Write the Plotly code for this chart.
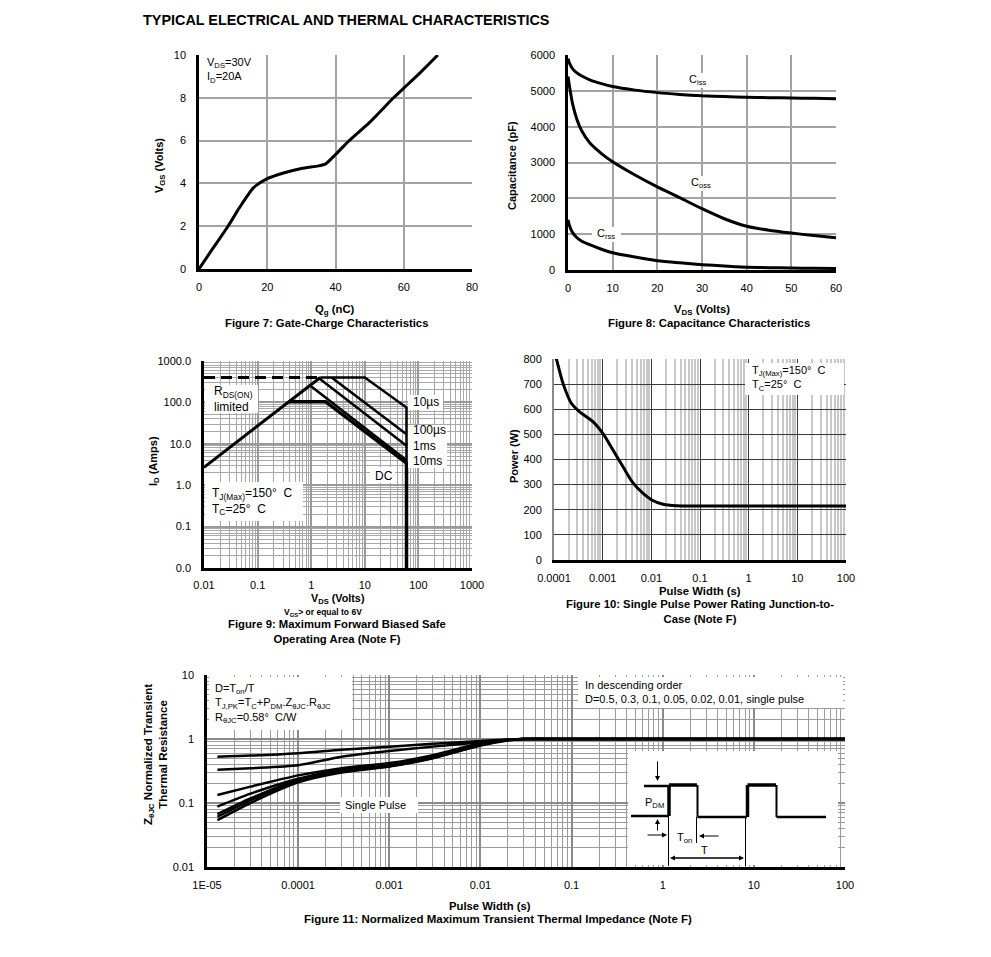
import plotly.graph_objects as go

W, H = 991, 957
OX, OY = 8, 8  # page body margin compensation
FONT = "Liberation Sans, Arial, sans-serif"

# ---------------- data ----------------
# Figure 7: gate charge
qg_nc = [0, 4, 8.5, 12, 16, 20, 25, 30, 35, 37, 40, 44, 50, 57, 60, 65, 70]
vgs_v = [0, 0.95, 2.0, 2.9, 3.8, 4.22, 4.5, 4.7, 4.82, 4.9, 5.35, 6.0, 6.85, 8.0, 8.45, 9.2, 10.0]

# Figure 8: capacitance
vds_cap = [0, 0.3, 1, 2, 3, 5, 7.5, 10, 15, 20, 25, 30, 35, 40, 45, 50, 55, 60]
ciss_pf = [5900, 5780, 5620, 5500, 5420, 5300, 5200, 5120, 5020, 4950, 4900, 4860, 4840, 4820, 4810, 4800, 4790, 4780]
coss_pf = [5400, 5150, 4650, 4200, 3900, 3530, 3250, 3020, 2650, 2320, 2020, 1710, 1430, 1220, 1110, 1030, 960, 900]
crss_pf = [1400, 1250, 1050, 900, 810, 700, 580, 480, 360, 260, 200, 150, 110, 80, 65, 55, 48, 45]

# Figure 9: safe operating area
rds_v, rds_i = [0.01, 1.48], [2.7, 400]
lim_v, lim_i = [0.01, 1.48], [400, 400]
us10_v, us10_i = [1.48, 10, 60, 60], [400, 400, 75, 0.01]
us100_v, us100_i = [2.4, 60], [400, 17]
ms1_v, ms1_i = [1.4, 60], [385, 9]
ms10_v, ms10_i = [0.95, 60], [255, 4.0]
dc_v, dc_i = [0.385, 1.85, 60, 60], [104, 104, 3.4, 0.01]

# Figure 10: single pulse power
pw_s = [1.0e-4, 1.12e-4, 1.53e-4, 2.27e-4, 3.36e-4, 6.3e-4, 1.0e-3, 1.63e-3, 2.6e-3,
        4.2e-3, 6.7e-3, 1.0e-2, 1.74e-2, 3.27e-2, 0.1, 1, 10, 100]
pw_w = [830, 800, 703, 624, 590, 551, 505, 438, 372, 307, 266, 240, 222, 216, 215, 215, 215, 215]

# Figure 11: transient thermal impedance
zt_s = [1.3e-5, 3e-5, 1e-4, 3e-4, 1e-3, 3e-3, 1e-2, 2e-2, 3e-2, 0.1, 1, 10, 100]
z_d05 = [0.53, 0.55, 0.60, 0.68, 0.76, 0.84, 0.93, 0.98, 1.0, 1.0, 1.0, 1.0, 1.0]
z_d03 = [0.33, 0.35, 0.39, 0.53, 0.65, 0.76, 0.89, 0.97, 1.0, 1.0, 1.0, 1.0, 1.0]
z_d01 = [0.133, 0.18, 0.27, 0.35, 0.42, 0.56, 0.86, 0.97, 1.0, 1.0, 1.0, 1.0, 1.0]
z_d005 = [0.088, 0.14, 0.24, 0.33, 0.39, 0.53, 0.83, 0.96, 1.0, 1.0, 1.0, 1.0, 1.0]
z_d002 = [0.067, 0.118, 0.23, 0.32, 0.38, 0.51, 0.81, 0.96, 1.0, 1.0, 1.0, 1.0, 1.0]
z_d001 = [0.061, 0.11, 0.22, 0.31, 0.375, 0.505, 0.80, 0.96, 1.0, 1.0, 1.0, 1.0, 1.0]
z_single = [0.054, 0.10, 0.21, 0.30, 0.37, 0.50, 0.79, 0.95, 1.0, 1.0, 1.0, 1.0, 1.0]

# tick labels
f9_ticks = [0.01, 0.1, 1, 10, 100, 1000]
f9_xtext = ["0.01", "0.1", "1", "10", "100", "1000"]
f9_ytext = ["0.0", "0.1", "1.0", "10.0", "100.0", "1000.0"]
f10_xticks = [1e-4, 1e-3, 1e-2, 0.1, 1, 10, 100]
f10_xtext = ["0.0001", "0.001", "0.01", "0.1", "1", "10", "100"]
f11_xticks = [1e-5, 1e-4, 1e-3, 1e-2, 0.1, 1, 10, 100]
f11_xtext = ["1E-05", "0.0001", "0.001", "0.01", "0.1", "1", "10", "100"]
f11_yticks = [0.01, 0.1, 1, 10]
f11_ytext = ["0.01", "0.1", "1", "10"]


# ---------------- helpers ----------------
def px(x):
    return (x - OX) / W


def py(y):
    return 1 - (y - OY) / H


def dx(a, b):
    return [px(a), px(b)]


def dy(top, bottom):
    return [py(bottom), py(top)]


def minors(d0, d1):
    return [m * 10.0 ** d for d in range(d0, d1) for m in range(2, 10)]


fig = go.Figure()
BLK = "black"

# Figure 7
fig.add_trace(go.Scatter(x=qg_nc, y=vgs_v, mode="lines", line=dict(color=BLK, width=3, shape="spline", smoothing=0.6),
                         xaxis="x", yaxis="y", showlegend=False))
# Figure 8
for ys in (ciss_pf, coss_pf, crss_pf):
    fig.add_trace(go.Scatter(x=vds_cap, y=ys, mode="lines", line=dict(color=BLK, width=3, shape="spline", smoothing=0.6),
                             xaxis="x2", yaxis="y2", showlegend=False))
# Figure 9
fig.add_trace(go.Scatter(x=lim_v, y=lim_i, mode="lines", line=dict(color=BLK, width=3, dash="11px,6px"),
                         xaxis="x3", yaxis="y3", showlegend=False))
for xs, ys, w in ((rds_v, rds_i, 3), (us10_v, us10_i, 2.5), (us100_v, us100_i, 2.5),
                  (ms1_v, ms1_i, 2.5), (ms10_v, ms10_i, 2.5), (dc_v, dc_i, 3.5)):
    fig.add_trace(go.Scatter(x=xs, y=ys, mode="lines", line=dict(color=BLK, width=w),
                             xaxis="x3", yaxis="y3", showlegend=False))
# Figure 10
fig.add_trace(go.Scatter(x=pw_s, y=pw_w, mode="lines", line=dict(color=BLK, width=3, shape="spline", smoothing=0.8),
                         xaxis="x4", yaxis="y4", showlegend=False))
# Figure 11
for ys in (z_d05, z_d03, z_d01, z_d005, z_d002, z_d001, z_single):
    fig.add_trace(go.Scatter(x=zt_s, y=ys, mode="lines", line=dict(color=BLK, width=2.5, shape="spline", smoothing=0.7),
                             xaxis="x5", yaxis="y5", showlegend=False))

tickfont = dict(family=FONT, size=11, color="black")
common = dict(ticks="", showline=True, linecolor="black", linewidth=2.5, zeroline=False,
              tickfont=tickfont, fixedrange=True, automargin=False)

layout = dict(
    template="none",
    width=W, height=H, margin=dict(l=0, r=0, t=0, b=0, pad=0, autoexpand=False),
    paper_bgcolor="white", plot_bgcolor="white", showlegend=False,
    font=dict(family=FONT, color="black"),
    # Fig 7
    xaxis=dict(domain=dx(199, 472), range=[0, 80], dtick=20, anchor="y", showgrid=True,
               gridcolor="#a3a3a3", gridwidth=1.5, ticklabelstandoff=6, **common),
    yaxis=dict(domain=dy(55, 269), range=[0, 10], dtick=2, anchor="x", showgrid=True,
               gridcolor="#a3a3a3", gridwidth=1.5, ticklabelstandoff=8, **common),
    # Fig 8
    xaxis2=dict(domain=dx(568, 836), range=[0, 60], dtick=10, anchor="y2", showgrid=True,
                gridcolor="#a3a3a3", gridwidth=1.5, ticklabelstandoff=6, **common),
    yaxis2=dict(domain=dy(55, 270), range=[0, 6000], dtick=1000, anchor="x2", showgrid=True,
                gridcolor="#a3a3a3", gridwidth=1.5, ticklabelstandoff=8, **common),
    # Fig 9
    xaxis3=dict(domain=dx(204, 472), type="log", range=[-2, 3], anchor="y3", tickmode="array",
                tickvals=f9_ticks, ticktext=f9_xtext, showgrid=True, gridcolor="#9a9a9a", gridwidth=1.5,
                minor=dict(tickmode="array", tickvals=minors(-2, 3), showgrid=True, gridcolor="#a8a8a8", gridwidth=1),
                ticklabelstandoff=5, **common),
    yaxis3=dict(domain=dy(361, 568), type="log", range=[-2, 3], anchor="x3", tickmode="array",
                tickvals=f9_ticks, ticktext=f9_ytext, showgrid=True, gridcolor="#9a9a9a", gridwidth=1.5,
                minor=dict(tickmode="array", tickvals=minors(-2, 3), showgrid=True, gridcolor="#a8a8a8", gridwidth=1),
                ticklabelstandoff=8, **common),
    # Fig 10
    xaxis4=dict(domain=dx(554, 846), type="log", range=[-4, 2], anchor="y4", tickmode="array",
                tickvals=f10_xticks, ticktext=f10_xtext, showgrid=True, gridcolor="#3a3a3a", gridwidth=1,
                minor=dict(tickmode="array", tickvals=minors(-4, 2), showgrid=True, gridcolor="#c8c8c8", gridwidth=1.5),
                ticklabelstandoff=6, **common),
    yaxis4=dict(domain=dy(359, 560), range=[0, 800], dtick=100, anchor="x4", showgrid=True,
                gridcolor="#3a3a3a", gridwidth=1, ticklabelstandoff=8,
                **{**common, "linecolor": "#8a8a8a", "linewidth": 2}),
    # Fig 11
    xaxis5=dict(domain=dx(207, 845), type="log", range=[-5, 2], anchor="y5", tickmode="array",
                tickvals=f11_xticks, ticktext=f11_xtext, showgrid=True, gridcolor="#8a8a8a", gridwidth=1.5,
                minor=dict(tickmode="array", tickvals=minors(-5, 2), showgrid=True, gridcolor="#9c9c9c", gridwidth=1),
                ticklabelstandoff=6, **common),
    yaxis5=dict(domain=dy(675, 867), type="log", range=[-2, 1], anchor="x5", tickmode="array",
                tickvals=f11_yticks, ticktext=f11_ytext, showgrid=True, gridcolor="#8a8a8a", gridwidth=1.5,
                minor=dict(tickmode="array", tickvals=minors(-2, 1), showgrid=True, gridcolor="#9c9c9c", gridwidth=1),
                ticklabelstandoff=8, **common),
)
fig.update_layout(**layout)

shapes = []


def wrect(x0, y0, x1, y1):
    shapes.append(dict(type="rect", xref="paper", yref="paper", x0=px(x0), x1=px(x1), y0=py(y1), y1=py(y0),
                       fillcolor="white", line=dict(width=0), layer="above"))


def pline(x0, y0, x1, y1, w=1):
    shapes.append(dict(type="line", xref="paper", yref="paper", x0=px(x0), x1=px(x1), y0=py(y0), y1=py(y1),
                       line=dict(color="black", width=w), layer="above"))


# white label boxes
wrect(684, 73, 713, 88)     # Ciss
wrect(687, 176, 715, 191)   # Coss
wrect(592, 227, 621, 242)   # Crss
wrect(205, 385, 258, 413)   # RDS(on)
wrect(408, 395, 443, 410)   # 10us
wrect(408, 425, 447, 468)   # 100us..10ms
wrect(370, 467, 395, 483)   # DC
wrect(205, 482, 303, 521)   # Tj box fig9
wrect(745, 363, 844, 395)   # Tj box fig10
wrect(209, 677, 352, 730)   # fig11 top-left
wrect(340, 797, 418, 813)   # single pulse
wrect(578, 677, 843, 708)   # descending order
wrect(628, 751, 838, 865)   # pulse inset

# pulse diagram
pline(631, 816, 669, 816, 2.5)
pline(644, 786, 669, 786, 2.5)
pline(669, 816, 669, 785, 3.5)
pline(669, 785, 697, 785, 3.5)
pline(697.5, 785, 697.5, 817, 2)
pline(697.5, 817, 747, 817, 2.5)
pline(747.5, 817, 747.5, 785, 3.5)
pline(747.5, 785, 776, 785, 3.5)
pline(776.5, 785, 776.5, 817, 2)
pline(776.5, 817, 826, 817, 2.5)
pline(668.5, 817, 668.5, 866, 1)
pline(696.5, 817, 696.5, 843, 1)
pline(745.5, 817, 745.5, 866, 1)
fig.update_layout(shapes=shapes)

ann = []


def text(x, y, s, size=11, bold=False, xanchor="center", align="center", angle=0, yanchor="middle"):
    if bold:
        s = "<b>" + s + "</b>"
    ann.append(dict(xref="paper", yref="paper", x=px(x), y=py(y), text=s, showarrow=False,
                    xanchor=xanchor, yanchor=yanchor, align=align, textangle=angle,
                    font=dict(family=FONT, size=size, color="black")))


def arrow(x_tip, y_tip, x_tail, y_tail):
    ann.append(dict(xref="paper", yref="paper", axref="pixel", ayref="pixel", x=px(x_tip), y=py(y_tip),
                    ax=x_tail - x_tip, ay=y_tail - y_tip, text="", showarrow=True, arrowhead=2,
                    arrowsize=1, arrowwidth=1, arrowcolor="black"))


CAP = 11.3
text(141, 20, "TYPICAL ELECTRICAL AND THERMAL CHARACTERISTICS", size=14.4, bold=True, xanchor="left")

# Fig 7
text(205, 70, "V<sub>DS</sub>=30V<br>I<sub>D</sub>=20A", size=11, xanchor="left", align="left")
text(160, 166, "V<sub>GS</sub> (Volts)", size=11, bold=True, angle=-90)
text(335, 310, "Q<sub>g</sub> (nC)", size=CAP, bold=True)
text(326, 323, "Figure 7: Gate-Charge Characteristics", size=CAP, bold=True)
# Fig 8
text(698, 80, "C<sub>iss</sub>", size=11)
text(701, 183, "C<sub>oss</sub>", size=11)
text(606, 234, "C<sub>rss</sub>", size=11)
text(512, 166, "Capacitance (pF)", size=11, bold=True, angle=-90)
text(702, 310, "V<sub>DS</sub> (Volts)", size=CAP, bold=True)
text(709, 323, "Figure 8: Capacitance Characteristics", size=CAP, bold=True)
# Fig 9
text(212, 399, "R<sub>DS(ON)</sub><br>limited", size=12, xanchor="left", align="left")
text(411, 402, "10µs", size=12, xanchor="left")
text(411, 446, "100µs<br>1ms<br>10ms", size=12, xanchor="left", align="left")
text(373, 476, "DC", size=12, xanchor="left")
text(210, 501, "T<sub>J(Max)</sub>=150°  C<br>T<sub>C</sub>=25°  C", size=12, xanchor="left", align="left")
text(154, 461, "I<sub>D</sub> (Amps)", size=11, bold=True, angle=-90)
text(338, 598.5, "V<sub>DS</sub> (Volts)", size=10.8, bold=True)
text(323, 612, "V<sub>GS</sub>> or equal to 6V", size=8.5, bold=True)
text(337, 631, "Figure 9: Maximum Forward Biased Safe<br>Operating Area (Note F)", size=CAP, bold=True)
# Fig 10
text(750, 378, "T<sub>J(Max)</sub>=150°  C<br>T<sub>C</sub>=25°  C", size=11, xanchor="left", align="left")
text(514, 456, "Power (W)", size=11, bold=True, angle=-90)
text(700, 591, "Pulse Width (s)", size=CAP, bold=True)
text(700, 611, "Figure 10: Single Pulse Power Rating Junction-to-<br>Case (Note F)", size=CAP, bold=True)
# Fig 11
text(213, 703, "D=T<sub>on</sub>/T<br>T<sub>J,PK</sub>=T<sub>C</sub>+P<sub>DM</sub>.Z<sub>θJC</sub>.R<sub>θJC</sub><br>R<sub>θJC</sub>=0.58°  C/W",
     size=11, xanchor="left", align="left")
text(343, 805, "Single Pulse", size=11, xanchor="left")
text(583, 692, "In descending order<br>D=0.5, 0.3, 0.1, 0.05, 0.02, 0.01, single pulse", size=11, xanchor="left", align="left")
text(155, 755, "Z<sub>θJC</sub> Normalized Transient<br>Thermal Resistance", size=11.5, bold=True, angle=-90)
text(490, 906, "Pulse Width (s)", size=CAP, bold=True)
text(498, 919, "Figure 11: Normalized Maximum Transient Thermal Impedance (Note F)", size=11.5, bold=True)
# pulse inset labels
text(643, 803, "P<sub>DM</sub>", size=11, xanchor="left")
text(675, 838, "T<sub>on</sub>", size=11, xanchor="left")
text(704, 850, "T", size=11)
arrow(657.5, 781, 657.5, 760)
arrow(657.5, 819, 657.5, 832)
arrow(667, 835, 646, 835)
arrow(699, 836, 720, 836)
arrow(744, 858, 671, 858)
arrow(670, 858, 743, 858)

fig.update_layout(annotations=ann)
fig.write_html("out.html")
